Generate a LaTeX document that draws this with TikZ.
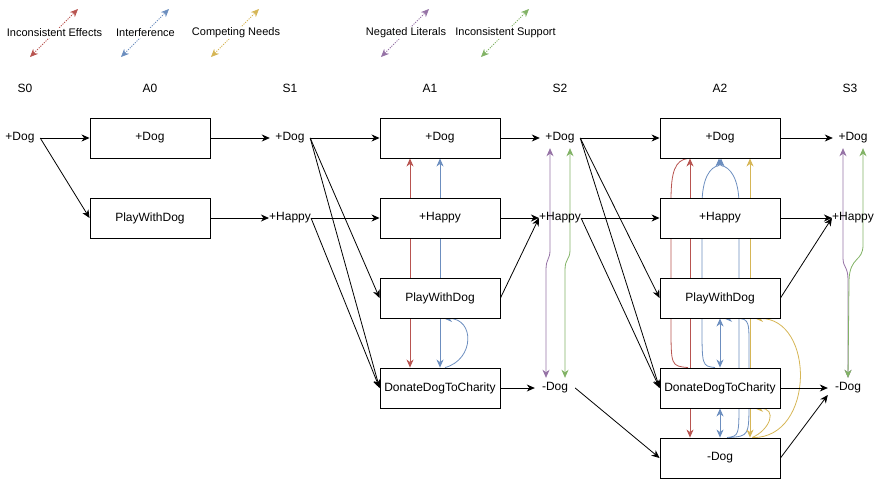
\documentclass[tikz,border=0pt]{standalone}
\usepackage{fontspec}
\setmainfont{Liberation Sans}
\usetikzlibrary{arrows.meta, backgrounds}
\definecolor{effcol}{HTML}{B85450}
\definecolor{intcol}{HTML}{6C8EBF}
\definecolor{needcol}{HTML}{D6B656}
\definecolor{negcol}{HTML}{9673A6}
\definecolor{supcol}{HTML}{82B366}
\begin{document}
\begin{tikzpicture}[x=1pt, y=-1pt, >={Stealth[length=8pt, width=7pt, inset=2.5pt]},
    font=\fontsize{12}{14}\selectfont,
    act/.style={draw, fill=white, line width=0.9pt, minimum width=120pt, minimum height=40pt, inner sep=0pt},
    lit/.style={inner sep=0pt, minimum width=40pt, minimum height=20pt},
    head/.style={inner sep=0pt},
    key/.style={fill=white, inner sep=1pt, font=\fontsize{11}{13}\selectfont},
    link/.style={->, line width=0.8pt},
    mutex/.style={<->, line width=0.8pt},
    bent/.style={line width=0.8pt},
    keyline/.style={<->, line width=0.8pt, dash pattern=on 1.2pt off 1.2pt}]
  \useasboundingbox (0,0) rectangle (874,479);

  \coordinate (kea) at (30,57);  \coordinate (keb) at (78,9);
  \coordinate (kia) at (121,57); \coordinate (kib) at (169,9);
  \coordinate (kca) at (211,57); \coordinate (kcb) at (259,9);
  \coordinate (kna) at (381,57); \coordinate (knb) at (429,9);
  \coordinate (ksa) at (481,57); \coordinate (ksb) at (529,9);
  \node[key] (keff) at (54.5,33) {Inconsistent Effects};
  \node[key] (kint) at (145.5,33) {Interference};
  \node[key] (kneed) at (236,33) {Competing Needs};
  \node[key] (kneg) at (406,33) {Negated Literals};
  \node[key] (ksup) at (505.5,33) {Inconsistent Support};

  \node[head] (hs0) at (25,88) {S0};
  \node[head] (ha0) at (150,88) {A0};
  \node[head] (hs1) at (290,88) {S1};
  \node[head] (ha1) at (430,88) {A1};
  \node[head] (hs2) at (560,88) {S2};
  \node[head] (ha2) at (720,88) {A2};
  \node[head] (hs3) at (850,88) {S3};

  \node[lit] (s0dog) at (20,138) {+Dog};
  \node[act] (a0dog) at (150,138) {+Dog};
  \node[act] (a0play) at (150,218) {PlayWithDog};
  \node[lit] (s1dog) at (290,138) {+Dog};
  \node[lit] (s1hap) at (290,218) {+Happy};
  \node[act] (a1dog) at (440,138) {+Dog};
  \node[act] (a1hap) at (440,218) {+Happy};
  \node[act] (a1play) at (440,298) {PlayWithDog};
  \node[act] (a1don) at (440,388) {DonateDogToCharity};
  \node[lit] (s2dog) at (560,138) {+Dog};
  \node[lit] (s2hap) at (560,218) {+Happy};
  \node[lit] (s2ndog) at (555,388) {-Dog};
  \node[act] (a2dog) at (720,138) {+Dog};
  \node[act] (a2hap) at (720,218) {+Happy};
  \node[act] (a2play) at (720,298) {PlayWithDog};
  \node[act] (a2don) at (720,388) {DonateDogToCharity};
  \node[act] (a2ndog) at (720,458) {-Dog};
  \node[lit] (s3dog) at (853,138) {+Dog};
  \node[lit] (s3hap) at (853,218) {+Happy};
  \node[lit] (s3ndog) at (848,388) {-Dog};

  \draw[link] (s0dog.east) -- (a0dog.west);
  \draw[link] (s0dog.east) -- (a0play.west);
  \draw[link] (a0dog.east) -- (s1dog.west);
  \draw[link] (a0play.east) -- (s1hap.west);
  \draw[link] (s1dog.east) -- (a1dog.west);
  \draw[link] (s1dog.east) -- (a1play.west);
  \draw[link] (s1dog.east) -- (a1don.west);
  \draw[link] (s1hap.east) -- (a1hap.west);
  \draw[link] (s1hap.east) -- (a1don.west);
  \draw[link] (a1dog.east) -- (s2dog.west);
  \draw[link] (a1hap.east) -- (s2hap.west);
  \draw[link] (a1play.east) -- (s2hap.west);
  \draw[link] (a1don.east) -- (s2ndog.west);
  \draw[link] (s2dog.east) -- (a2dog.west);
  \draw[link] (s2dog.east) -- (a2play.west);
  \draw[link] (s2dog.east) -- (a2don.west);
  \draw[link] (s2hap.east) -- (a2hap.west);
  \draw[link] (s2hap.east) -- (a2don.west);
  \draw[link] (s2ndog.east) -- (a2ndog.west);
  \draw[link] (a2dog.east) -- (s3dog.west);
  \draw[link] (a2hap.east) -- (s3hap.west);
  \draw[link] (a2play.east) -- (s3hap.west);
  \draw[link] (a2don.east) -- (s3ndog.west);
  \draw[link] (a2ndog.east) -- ([yshift=-7pt]s3ndog.west);

  \begin{scope}[on background layer]
    \draw[keyline, effcol] (kea) -- (keb);
    \draw[keyline, intcol] (kia) -- (kib);
    \draw[keyline, needcol] (kca) -- (kcb);
    \draw[keyline, negcol] (kna) -- (knb);
    \draw[keyline, supcol] (ksa) -- (ksb);

    \draw[mutex, effcol] ([xshift=-30pt]a1dog.south) -- ([xshift=-30pt]a1don.north);
    \draw[mutex, intcol] (a1dog.south) -- (a1don.north);
    \draw[bent, intcol, <-] ([xshift=4pt]a1play.south) to[out=0, in=15, looseness=1.6] ([xshift=5pt]a1don.north);

    \draw[mutex, negcol] ([xshift=-10pt]s2dog.south) -- (550,250) .. controls (550,260) and (546,258) .. (546,270) -- ([xshift=-9pt]s2ndog.north);
    \draw[mutex, supcol] ([xshift=10pt]s2dog.south) -- (570,250) .. controls (570,260) and (565,258) .. (565,270) -- ([xshift=10pt]s2ndog.north);

    \draw[mutex, effcol] ([xshift=-30pt]a2dog.south) -- ([xshift=-30pt]a2ndog.north);
    \draw[bent, effcol] ([xshift=-32pt]a2dog.south) .. controls (675,160) and (671,172) .. (671,200) -- (671,325) .. controls (671,366) .. ([xshift=-32pt]a2don.north);
    \draw[bent, intcol, <-] ([xshift=-1pt]a2dog.south) -- ++(0,7) .. controls (710,167) and (702,178) .. (702,205) -- (702,325) .. controls (702,366) .. ([xshift=-5pt]a2don.north);
    \draw[bent, intcol, <-] ([xshift=1pt]a2dog.south) -- ++(0,7) .. controls (730,167) and (739,178) .. (739,205) -- (739,400) .. controls (739,436) .. ([xshift=7pt]a2ndog.north);
    \draw[mutex, intcol] (a2play.south) -- (a2don.north);
    \draw[mutex, intcol] (a2don.south) -- (a2ndog.north);
    \draw[bent, intcol, <-] ([xshift=4pt]a2play.south) .. controls (749,318) .. (749,345) -- (749,400) .. controls (749,436) .. ([xshift=9pt]a2ndog.north);
    \draw[mutex, needcol] ([xshift=30pt]a2dog.south) -- ([xshift=30pt]a2ndog.north);
    \draw[bent, needcol, <-] ([xshift=35pt]a2play.south) .. controls (815,318) and (815,438) .. ([xshift=33pt]a2ndog.north);
    \draw[bent, needcol, <-] ([xshift=35pt]a2don.south) .. controls (778,408) and (770,430) .. ([xshift=32pt]a2ndog.north);

    \draw[mutex, negcol] ([xshift=-10pt]s3dog.south) -- (843,258) .. controls (843,268) and (848,266) .. (848,280) -- (s3ndog.north);
    \draw[mutex, supcol] ([xshift=10pt]s3dog.south) -- (863,245) .. controls (863,262) and (850,256) .. (849,280) -- (s3ndog.north);
  \end{scope}
\end{tikzpicture}
\end{document}
